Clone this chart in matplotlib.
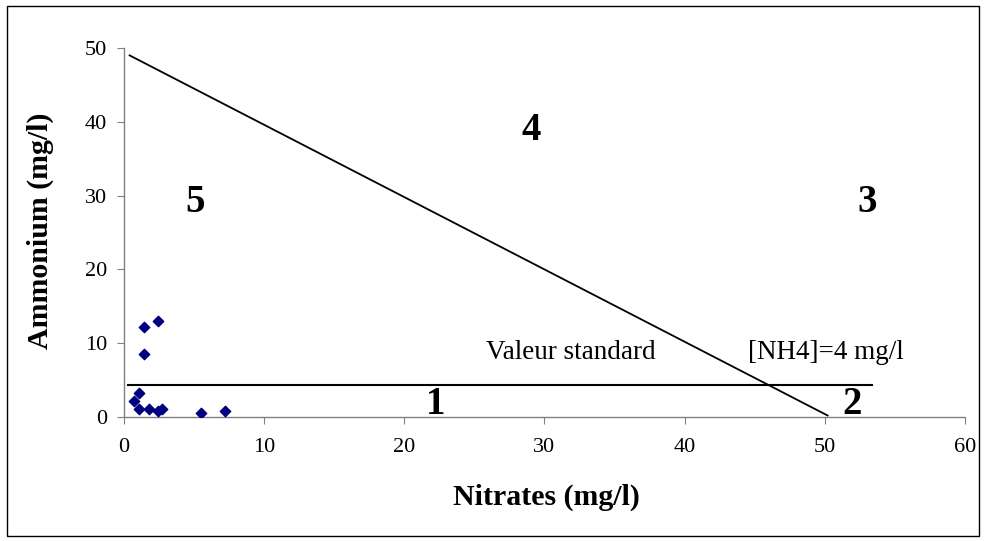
import matplotlib
matplotlib.use("Agg")
import matplotlib.pyplot as plt
from matplotlib.patches import Rectangle

nitrates = [2.4, 1.4, 1.4, 1.1, 0.7, 1.1, 1.8, 2.4, 2.7, 5.5, 7.2]
ammonium = [13.0, 12.2, 8.5, 3.3, 2.2, 1.1, 1.1, 0.8, 1.1, 0.55, 0.85]

diag_x = [0.4, 50.2]
diag_y = [49.0, 0.2]
std_x = [0.3, 53.4]
std_y = [4.4, 4.4]

zones = ["1", "2", "3", "4", "5"]
zone_x = [22.2, 51.95, 53.0, 29.05, 5.06]
zone_y = [0.4, 0.4, 27.8, 37.6, 27.8]

plt.rcParams['font.family'] = ['Liberation Serif', 'DejaVu Serif']

W, H = 987, 541
fig = plt.figure(figsize=(W/100, H/100), dpi=100)
ax = fig.add_axes([124/W, 1-417/H, (965-124)/W, (417-48)/H])

ax.plot(diag_x, diag_y, color='black', lw=1.3)
ax.plot(std_x, std_y, color='black', lw=1.5)
ax.scatter(nitrates, ammonium, marker='D', s=28, color='#000080', zorder=3)

for z, x, y in zip(zones, zone_x, zone_y):
    ax.text(x, y, z, fontsize=28, fontweight='bold', ha='center', va='baseline')

ax.text(31.9, 7.8, "Valeur standard", fontsize=19.5, ha='center', va='baseline')
ax.text(50.1, 7.8, "[NH4]=4 mg/l", fontsize=19.5, ha='center', va='baseline')

ax.set_xlim(0, 60)
ax.set_ylim(0, 50)
ax.set_xticks([0, 10, 20, 30, 40, 50, 60])
ax.set_yticks([0, 10, 20, 30, 40, 50])
for s in ['top', 'right']:
    ax.spines[s].set_visible(False)
for s in ['left', 'bottom']:
    ax.spines[s].set_color('#808080')
    ax.spines[s].set_linewidth(1.0)
ax.tick_params(direction='out', length=5, color='#808080', labelsize=16)
ax.tick_params(axis='x', pad=10)
ax.tick_params(axis='y', pad=7)
ax.patch.set_alpha(0)

fig.text(546/W, 1-497/H, "Nitrates (mg/l)", fontsize=21.5, fontweight='bold',
         ha='center', va='center')
fig.text(40/W, 1-231/H, "Ammonium (mg/l)", fontsize=21.5, fontweight='bold',
         ha='center', va='center', rotation=90)

fig.patches.append(Rectangle((7/W, 5/H), (979-7)/W, (535-5)/H,
                             transform=fig.transFigure, fill=False,
                             edgecolor='black', lw=1.0))

fig.savefig("out.png", dpi=100)
